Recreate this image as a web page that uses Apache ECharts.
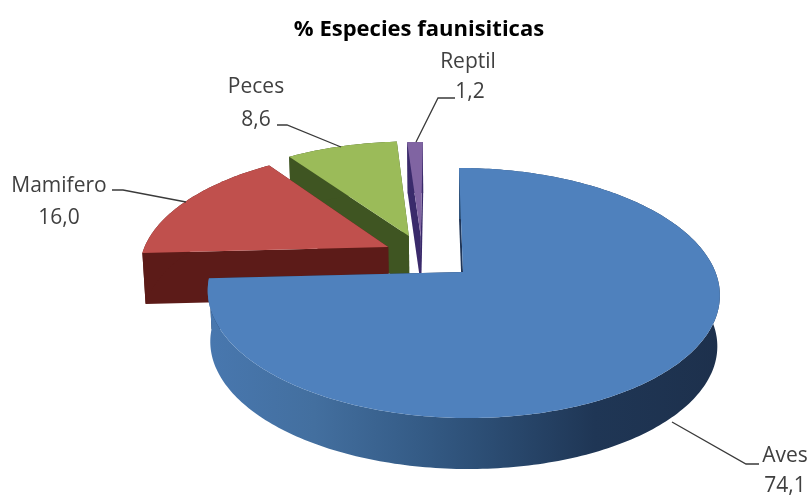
<!DOCTYPE html>
<html><head><meta charset="utf-8">
<style>html,body{margin:0;padding:0;background:#fff}#c{width:810px;height:495px}</style>
<script src="https://cdn.jsdelivr.net/npm/echarts@6/dist/echarts.min.js"></script>
</head><body><div id="c"></div>
<script>
var categories = ['Aves', 'Mamifero', 'Peces', 'Reptil'];
var values = [74.1, 16.0, 8.6, 1.2];

// Styling and layout (no data)
var topColors = ['#4f81bd', '#c0504d', '#9bbb59', '#8064a2'];
var wallColors = ['#1f3557', '#5c1b18', '#3f5522', '#3a2a6b'];
var explode = [[0, 0], [-0.303, -0.213], [-0.22, -0.312], [-0.17, -0.305]];
var labelPos = [
  [785, 456, 785, 486],
  [59, 186, 59, 218],
  [256, 87, 256, 120],
  [468, 62, 470, 92]
];
var leaders = [
  [[672, 422], [746, 464], [759, 464]],
  [[186, 202], [123, 190], [112, 190]],
  [[341, 147], [287, 125], [277, 125]],
  [[416, 142], [438, 98], [455, 98]]
];
var P = {x0: 463, y0: 272, R: 252.4, b: 121.5, k: 0.168, shear: 4.7, depth: 51, m: 0.99};

function project(u, v, low) {
  var s = 1 / (1 - P.k * v);
  var x = (P.R * u + P.shear * v) * s;
  var y = P.b * v * s;
  if (low) { x *= P.m; y += P.depth; }
  return [P.x0 + x, P.y0 + y];
}
function pt(i, deg, low, apex) {
  var e = explode[i], r = deg * Math.PI / 180;
  var u = apex ? 0 : Math.sin(r), v = apex ? 0 : -Math.cos(r);
  return project(e[0] + u, e[1] + v, low);
}
var total = values.reduce(function (a, b) { return a + b; }, 0);
var starts = [], acc = 0;
values.forEach(function (v) { starts.push(acc); acc += v / total * 360; });

function poly(points, fill, z2) {
  return {type: 'polygon', shape: {points: points}, style: {fill: fill}, z2: z2, silent: true};
}
function renderSlice(params, api) {
  var i = params.dataIndex;
  var a0 = starts[i], a1 = a0 + api.value(1) / total * 360;
  var base = (categories.length - i) * 10;
  var rimTop = [], rimLow = [], d;
  var n = Math.max(4, Math.ceil(a1 - a0));
  for (var j = 0; j <= n; j++) {
    d = a0 + (a1 - a0) * j / n;
    rimTop.push(pt(i, d, false));
    rimLow.push(pt(i, d, true));
  }
  var rimFill = wallColors[i];
  if (i === 0) {
    rimFill = new echarts.graphic.LinearGradient(212, 0, 722, 0, [
      {offset: 0, color: '#4877ae'},
      {offset: 0.2, color: '#436f9f'},
      {offset: 0.4, color: '#355c87'},
      {offset: 0.55, color: '#2b4c72'},
      {offset: 0.75, color: '#1f3655'},
      {offset: 1, color: '#1d304c'}
    ], true);
  }
  var ap = pt(i, 0, false, true), apL = pt(i, 0, true, true);
  return {
    type: 'group',
    children: [
      poly([rimTop[n], rimLow[n], apL, ap], wallColors[i], base),
      poly([rimTop[0], rimLow[0], apL, ap], wallColors[i], base + 1),
      poly(rimTop.concat(rimLow.slice().reverse()), rimFill, base + 2),
      poly([ap].concat(rimTop), topColors[i], base + 3)
    ]
  };
}
function renderLabel(params, api) {
  var i = params.dataIndex, p = labelPos[i];
  var font = '21px "Open Sans"';
  var txt = function (s, x, y) {
    return {type: 'text', style: {text: s, x: x, y: y, font: font, fill: '#404040', align: 'center', verticalAlign: 'middle'}, z2: 100};
  };
  return {
    type: 'group',
    children: [
      {type: 'polyline', shape: {points: leaders[i]}, style: {stroke: '#3a3a3a', lineWidth: 1.3, fill: null}, z2: 90},
      txt(categories[i], p[0], p[1]),
      txt(api.value(1).toFixed(1).replace('.', ','), p[2], p[3])
    ]
  };
}
var rows = values.map(function (v, i) { return [i, v]; });
var chart = echarts.init(document.getElementById('c'), null, {renderer: 'canvas'});
chart.setOption({
  animation: false,
  backgroundColor: '#fff',
  title: {
    text: '% Especies faunisiticas', left: 414, top: 14, textAlign: 'center',
    textStyle: {fontFamily: 'Open Sans', fontWeight: 'bold', fontSize: 22, color: '#000'}
  },
  series: [
    {type: 'custom', coordinateSystem: 'none', renderItem: renderSlice, data: rows, silent: true},
    {type: 'custom', coordinateSystem: 'none', renderItem: renderLabel, data: rows, silent: true, z: 5}
  ]
});
</script></body></html>
